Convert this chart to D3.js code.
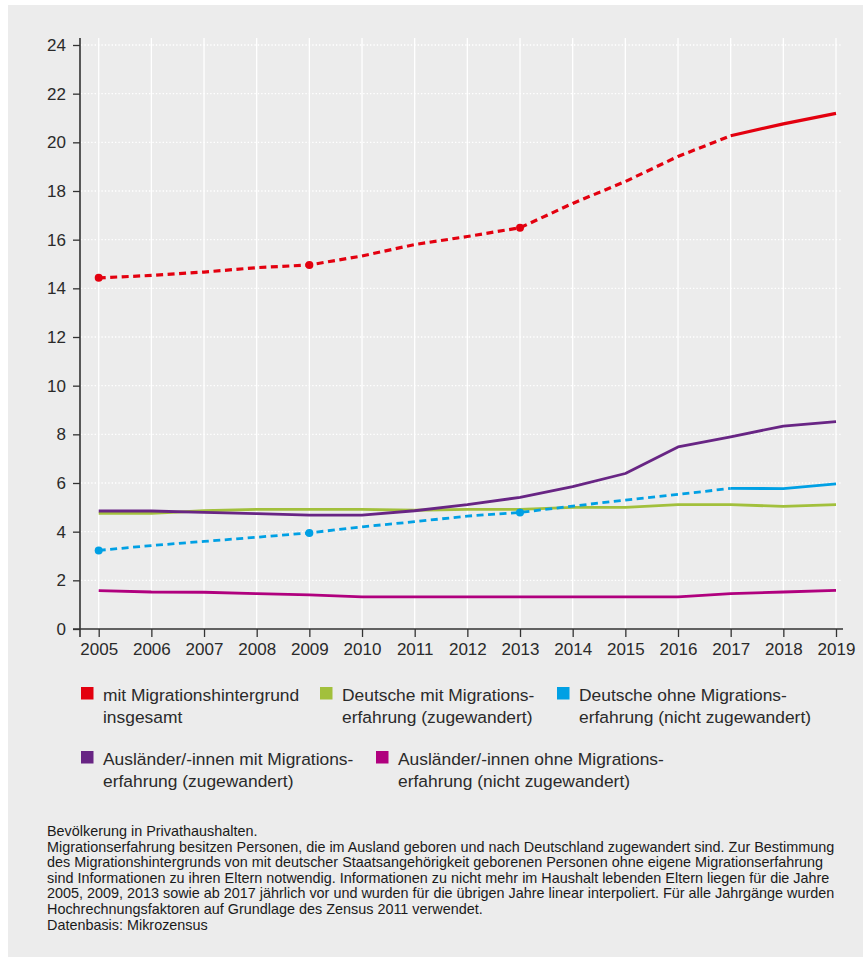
<!DOCTYPE html>
<html><head><meta charset="utf-8">
<script src="https://cdn.jsdelivr.net/npm/d3@7"></script>
<style>
html,body{margin:0;padding:0;background:#fff;}
svg{display:block;font-family:"Liberation Sans",Arial,sans-serif;}
</style></head>
<body>
<svg id="chart" width="863" height="960"></svg>
<script>
const years = [2005,2006,2007,2008,2009,2010,2011,2012,2013,2014,2015,2016,2017,2018,2019];
const yTicks = [0,2,4,6,8,10,12,14,16,18,20,22,24];
const total       = [14.43,14.53,14.67,14.85,14.96,15.33,15.80,16.13,16.49,17.49,18.39,19.42,20.27,20.76,21.19];
const deutschMit  = [4.75,4.75,4.86,4.92,4.92,4.92,4.88,4.92,4.92,5.00,5.00,5.11,5.11,5.04,5.11];
const deutschOhne = [3.23,3.43,3.60,3.77,3.95,4.20,4.41,4.64,4.79,5.05,5.30,5.53,5.78,5.77,5.96];
const auslMit     = [4.85,4.85,4.79,4.74,4.68,4.68,4.86,5.11,5.41,5.85,6.39,7.48,7.90,8.34,8.52];
const auslOhne    = [1.58,1.52,1.51,1.45,1.40,1.32,1.32,1.32,1.32,1.32,1.32,1.32,1.45,1.52,1.59];
const surveyYears = [2005,2009,2013];
const solidFrom = 2017;

const seriesNames = [
  ["mit Migrationshintergrund","insgesamt"],
  ["Deutsche mit Migrations-","erfahrung (zugewandert)"],
  ["Deutsche ohne Migrations-","erfahrung (nicht zugewandert)"],
  ["Ausländer/-innen mit Migrations-","erfahrung (zugewandert)"],
  ["Ausländer/-innen ohne Migrations-","erfahrung (nicht zugewandert)"]
];
const colors = ["#e3000f","#a2c03c","#00a0e4","#682584","#b0007e"];
const footnote = [
  "Bevölkerung in Privathaushalten.",
  "Migrationserfahrung besitzen Personen, die im Ausland geboren und nach Deutschland zugewandert sind. Zur Bestimmung",
  "des Migrationshintergrunds von mit deutscher Staatsangehörigkeit geborenen Personen ohne eigene Migrationserfahrung",
  "sind Informationen zu ihren Eltern notwendig. Informationen zu nicht mehr im Haushalt lebenden Eltern liegen für die Jahre",
  "2005, 2009, 2013 sowie ab 2017 jährlich vor und wurden für die übrigen Jahre linear interpoliert. Für alle Jahrgänge wurden",
  "Hochrechnungsfaktoren auf Grundlage des Zensus 2011 verwendet.",
  "Datenbasis: Mikrozensus"
];

const svg = d3.select("#chart");
svg.append("rect").attr("x",8).attr("y",5).attr("width",855).attr("height",952).attr("fill","#ececec");

const x = d3.scaleLinear().domain([2005,2019]).range([98.7,836]);
const y = d3.scaleLinear().domain([0,24]).range([629,45]);

// grid
const g = svg.append("g");
g.selectAll("line.v").data(years).enter().append("line")
  .attr("x1",d=>x(d)).attr("x2",d=>x(d)).attr("y1",38).attr("y2",629)
  .attr("stroke","#fff").attr("stroke-width",1.3);
g.selectAll("line.h").data(yTicks.slice(1)).enter().append("line")
  .attr("x1",81).attr("x2",842).attr("y1",d=>y(d)).attr("y2",d=>y(d))
  .attr("stroke","#fff").attr("stroke-width",1.4).attr("stroke-dasharray","1.4,2");

// axes
const yAxis = svg.append("g").attr("transform","translate(80,0)")
  .call(d3.axisLeft(y).tickValues(yTicks).tickSize(7).tickPadding(7).tickFormat(d3.format("d")));
yAxis.select(".domain").remove();
const xAxis = svg.append("g").attr("transform","translate(0,629)")
  .call(d3.axisBottom(x).tickValues(years).tickSize(8).tickPadding(6).tickFormat(d3.format("d")));
xAxis.select(".domain").remove();
[yAxis,xAxis].forEach(a=>{
  a.selectAll("line").attr("stroke","#333").attr("stroke-width",1.3);
  a.selectAll("text").attr("fill","#2a2a2a").style("font-size","17px").style("font-family","Liberation Sans, Arial, sans-serif");
});
svg.append("line").attr("x1",80).attr("x2",80).attr("y1",38).attr("y2",637).attr("stroke","#333").attr("stroke-width",1.6);
svg.append("line").attr("x1",73).attr("x2",843).attr("y1",629).attr("y2",629).attr("stroke","#333").attr("stroke-width",1.6);

// lines
const line = d3.line().x(d=>x(d[0])).y(d=>y(d[1])).curve(d3.curveLinear);
const allSeries = [total,deutschMit,deutschOhne,auslMit,auslOhne];
const dashedIdx = [0,2];
const plotOrder = [4,1,3,2,0];
plotOrder.forEach(i=>{
  const pts = years.map((yr,k)=>[yr,allSeries[i][k]]);
  if(dashedIdx.includes(i)){
    const dashPart = pts.filter(p=>p[0]<=solidFrom);
    const solidPart = pts.filter(p=>p[0]>=solidFrom);
    svg.append("path").attr("d",line(dashPart)).attr("fill","none").attr("stroke",colors[i])
      .attr("stroke-width",i===0?3.2:2.8).attr("stroke-dasharray","7,4.5");
    svg.append("path").attr("d",line(solidPart)).attr("fill","none").attr("stroke",colors[i])
      .attr("stroke-width",i===0?3.2:2.8);
    svg.selectAll(null).data(pts.filter(p=>surveyYears.includes(p[0]))).enter().append("circle")
      .attr("cx",d=>x(d[0])).attr("cy",d=>y(d[1])).attr("r",4).attr("fill",colors[i]);
  } else {
    svg.append("path").attr("d",line(pts)).attr("fill","none").attr("stroke",colors[i])
      .attr("stroke-width",2.8).attr("stroke-linejoin","round");
  }
});

// legend
const legendPos = [[81,687],[320,687],[557,687],[81,751],[376,751]];
seriesNames.forEach((nm,i)=>{
  const [lx,ly] = legendPos[i];
  svg.append("rect").attr("x",lx).attr("y",ly).attr("width",12.5).attr("height",12.5).attr("fill",colors[i]);
  const t = svg.append("text").attr("x",lx+22).attr("y",ly+13.8).attr("fill","#2a2a2a").style("font-size","17.4px");
  nm.forEach((s,k)=>t.append("tspan").attr("x",lx+22).attr("dy",k===0?0:21.8).text(s));
});

// footnote
const ft = svg.append("text").attr("x",47).attr("y",836).attr("fill","#1a1a1a").style("font-size","14.4px");
footnote.forEach((s,k)=>ft.append("tspan").attr("x",47).attr("dy",k===0?0:15.6).text(s));
</script>
</body></html>
